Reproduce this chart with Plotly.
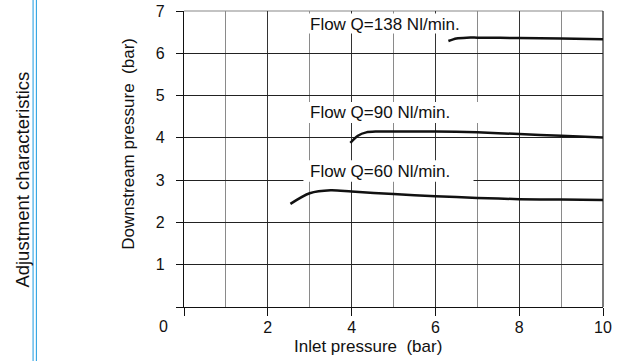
import plotly.graph_objects as go

# ---- data ----
flow138_x = [6.31, 6.5, 6.75, 7.0, 8.0, 9.0, 10.0]
flow138_y = [6.29, 6.35, 6.37, 6.37, 6.36, 6.35, 6.33]

flow90_x = [3.97, 4.15, 4.35, 4.6, 5.0, 6.0, 7.0, 8.0, 9.0, 10.0]
flow90_y = [3.88, 4.05, 4.13, 4.15, 4.15, 4.15, 4.13, 4.09, 4.05, 4.01]

flow60_x = [2.54, 3.0, 3.5, 4.0, 5.0, 6.0, 7.0, 8.0, 9.0, 10.0]
flow60_y = [2.44, 2.69, 2.76, 2.73, 2.67, 2.62, 2.58, 2.55, 2.54, 2.53]

series_labels = ["Flow Q=138 Nl/min.", "Flow Q=90 Nl/min.", "Flow Q=60 Nl/min."]
label_pos = [(2.97, 6.69), (2.97, 4.59), (2.97, 3.21)]
label_boxes = [(2.90, 6.83, 6.47, 6.94), (2.90, 7.03, 4.35, 4.85), (2.85, 6.91, 2.96, 3.47)]

x_tickvals = [0, 2, 4, 6, 8, 10]
x_ticktext = ["", "2", "4", "6", "8", "10"]
y_tickvals = [0, 1, 2, 3, 4, 5, 6, 7]
y_ticktext = ["", "1", "2", "3", "4", "5", "6", "7"]

FONT = "Liberation Sans, Arial, Helvetica, sans-serif"

fig = go.Figure()
for xs, ys in [(flow138_x, flow138_y), (flow90_x, flow90_y), (flow60_x, flow60_y)]:
    fig.add_trace(go.Scatter(x=xs, y=ys, mode="lines",
                             line=dict(color="#111111", width=2.5, shape="spline", smoothing=0.8),
                             showlegend=False, hoverinfo="skip"))

L, R, T, B = 183.5, 16.3, 10.5, 53.7
PW, PH = 619 - L - R, 361 - T - B

def px2paper_x(px):
    return (px - L) / PW

def px2paper_y(py):
    return (361 - B - py) / PH

shapes = []
for (x0, x1, y0, y1) in label_boxes:
    shapes.append(dict(type="rect", xref="x", yref="y", x0=x0, x1=x1, y0=y0, y1=y1,
                       fillcolor="white", line=dict(width=0), layer="between"))
# top and right frame lines
shapes.append(dict(type="line", xref="paper", yref="paper", x0=0, x1=1, y0=1, y1=1,
                   line=dict(color="#888888", width=1.2), layer="below"))
shapes.append(dict(type="line", xref="paper", yref="paper", x0=1, x1=1, y0=0, y1=1,
                   line=dict(color="#222222", width=1.2), layer="below"))
# blue double rule at left
for px in [32.5, 35.8]:
    shapes.append(dict(type="line", xref="paper", yref="paper",
                       x0=px2paper_x(px), x1=px2paper_x(px),
                       y0=px2paper_y(362), y1=px2paper_y(-1),
                       line=dict(color="#1a9be0", width=1)))

annotations = []
for txt, (ax, ay) in zip(series_labels, label_pos):
    annotations.append(dict(x=ax, y=ay, xref="x", yref="y", text=txt, showarrow=False,
                            xanchor="left", yanchor="middle",
                            font=dict(family=FONT, size=17, color="#111111")))

annotations.append(dict(x=px2paper_x(163), y=px2paper_y(327), xref="paper", yref="paper",
                        text="0", showarrow=False, xanchor="center", yanchor="middle",
                        font=dict(family=FONT, size=16, color="#111111")))
annotations.append(dict(x=px2paper_x(128), y=px2paper_y(144), xref="paper", yref="paper",
                        text="Downstream pressure\u00a0\u00a0(bar)", textangle=-90, showarrow=False,
                        xanchor="center", yanchor="middle",
                        font=dict(family=FONT, size=17, color="#111111")))
annotations.append(dict(x=px2paper_x(368), y=px2paper_y(347), xref="paper", yref="paper",
                        text="Inlet pressure\u00a0\u00a0(bar)", showarrow=False,
                        xanchor="center", yanchor="middle",
                        font=dict(family=FONT, size=17, color="#111111")))
annotations.append(dict(x=px2paper_x(21), y=px2paper_y(180), xref="paper", yref="paper",
                        text="Adjustment characteristics", textangle=-90, showarrow=False,
                        xanchor="center", yanchor="middle",
                        font=dict(family=FONT, size=18.5, color="#111111")))

fig.update_layout(
    width=619, height=361,
    margin=dict(l=L, r=R, t=T, b=B, pad=0, autoexpand=False),
    paper_bgcolor="white", plot_bgcolor="white",
    font=dict(family=FONT, size=16, color="#111111"),
    shapes=shapes, annotations=annotations,
    xaxis=dict(range=[0, 10], showline=True, linecolor="#111111", linewidth=1.3,
               tickmode="array", tickvals=x_tickvals, ticktext=x_ticktext,
               ticks="outside", ticklen=8, tickwidth=1.3, tickcolor="#111111",
               showgrid=True, gridcolor="#333333", gridwidth=1.2,
               minor=dict(tickmode="array", tickvals=[1, 3, 5, 7, 9], showgrid=True,
                          gridcolor="#8a8a8a", gridwidth=1.2, ticks=""),
               zeroline=False, ticklabelstandoff=-2, fixedrange=True, automargin=False),
    yaxis=dict(range=[0, 7], showline=True, linecolor="#111111", linewidth=1.3,
               tickmode="array", tickvals=y_tickvals, ticktext=y_ticktext,
               ticks="outside", ticklen=7, tickwidth=1.3, tickcolor="#111111",
               showgrid=True, gridcolor="#222222", gridwidth=1.2,
               zeroline=False, ticklabelstandoff=8, fixedrange=True, automargin=False),
)

fig.write_html("out.html", config={"displayModeBar": False},
               post_script="document.body.style.margin='0px';document.body.style.padding='0px';")
